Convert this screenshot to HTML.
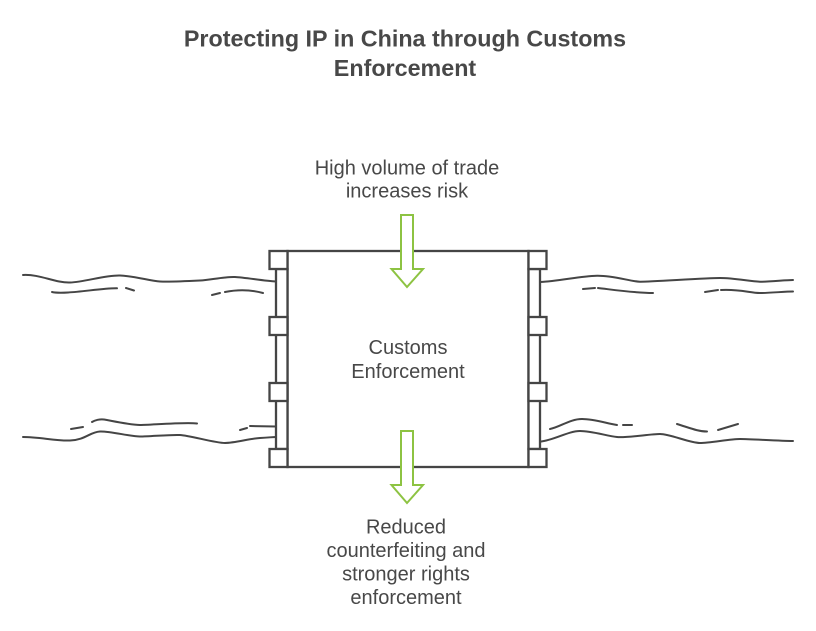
<!DOCTYPE html>
<html>
<head>
<meta charset="utf-8">
<style>
  html,body{margin:0;padding:0;background:#ffffff;}
  svg{display:block;}
  text{font-family:"Liberation Sans",Arial,sans-serif;fill:#484848;}
</style>
</head>
<body>
<svg width="816" height="631" viewBox="0 0 816 631" xmlns="http://www.w3.org/2000/svg">
  <!-- Title -->
  <text x="405" y="46.7" text-anchor="middle" font-size="23.3" font-weight="bold">Protecting IP in China through Customs</text>
  <text x="405" y="76" text-anchor="middle" font-size="23.3" font-weight="bold">Enforcement</text>

  <!-- Waves -->
  <g fill="none" stroke="#454545" stroke-width="2" stroke-linecap="round">
    <!-- left top -->
    <path d="M23,275 C40,274 55,283 70,282.5 S105,275 120,275.5 S150,281 160,281.5 S190,281 200,280.5 S225,276.5 235,277 S265,281 276,281.5"/>
    <path d="M52,292 C65,295 100,288 117,288.3"/>
    <path d="M126,288 L134,290.5"/>
    <path d="M212,295 L220,293"/>
    <path d="M225,292 C240,289 252,290 263,293"/>
    <!-- left bottom -->
    <path d="M71,429 L83,427"/>
    <path d="M92,422 C95,420 100,419 104,419.5 S130,425 140,425 S185,422 197,423.5"/>
    <path d="M240,430 L247,428"/>
    <path d="M250,426 L276,426.5"/>
    <path d="M23,437 C40,437 55,441 70,440.5 S90,432 100,431.5 S130,436.5 140,436.5 S170,434.5 180,435 S215,443 225,443 S250,438.5 260,438 S272,437 276,437"/>
    <!-- right top -->
    <path d="M540,282 C560,281 580,276 597,275.7 S630,281.5 640,281.7 S705,278 720,278 S750,281.5 760,281.7 S785,280 793,280"/>
    <path d="M583,289 L595,288"/>
    <path d="M598,288 C615,290 635,293 653,293"/>
    <path d="M705,292 L718,290"/>
    <path d="M721,290 C740,289 750,293 760,293 S785,291.5 793,291.5"/>
    <!-- right bottom -->
    <path d="M550,429 C560,427 570,419 582,419 S607,423.5 617,425"/>
    <path d="M623,425 L632,425"/>
    <path d="M677,424 C690,428 698,431.5 707,431.5"/>
    <path d="M718,430 L738,424"/>
    <path d="M540,441.7 C555,440 568,431 580,431 S607,436 617,437 S650,434 660,434 S690,443 700,443 S730,439 740,439 S780,441 793,441"/>
  </g>

  <!-- Lock / box -->
  <g fill="#ffffff" stroke="#454545" stroke-width="2.3">
    <rect x="287.5" y="251" width="241" height="216"/>
    <!-- left bar -->
    <rect x="276" y="269" width="11.5" height="180"/>
    <rect x="269.5" y="251" width="18" height="18"/>
    <rect x="269.5" y="317" width="18" height="18"/>
    <rect x="269.5" y="383" width="18" height="18"/>
    <rect x="269.5" y="449" width="18" height="18"/>
    <!-- right bar -->
    <rect x="528.5" y="269" width="11.5" height="180"/>
    <rect x="528.5" y="251" width="18" height="18"/>
    <rect x="528.5" y="317" width="18" height="18"/>
    <rect x="528.5" y="383" width="18" height="18"/>
    <rect x="528.5" y="449" width="18" height="18"/>
  </g>

  <!-- Arrows -->
  <g fill="#ffffff" stroke="#8dc342" stroke-width="2" stroke-linejoin="miter">
    <path d="M401,215 L413,215 L413,269 L423,269 L407,287 L391.5,269 L401,269 Z"/>
    <path d="M401,431 L413,431 L413,485 L423,485 L407,503 L391.5,485 L401,485 Z"/>
  </g>

  <!-- Labels -->
  <text x="407" y="174.3" text-anchor="middle" font-size="20">High volume of trade</text>
  <text x="407" y="197.7" text-anchor="middle" font-size="20">increases risk</text>

  <text x="408" y="354" text-anchor="middle" font-size="20">Customs</text>
  <text x="408" y="378" text-anchor="middle" font-size="20">Enforcement</text>

  <text x="406" y="533.5" text-anchor="middle" font-size="20">Reduced</text>
  <text x="406" y="557" text-anchor="middle" font-size="20">counterfeiting and</text>
  <text x="406" y="580.5" text-anchor="middle" font-size="20">stronger rights</text>
  <text x="406" y="604" text-anchor="middle" font-size="20">enforcement</text>
</svg>
</body>
</html>
